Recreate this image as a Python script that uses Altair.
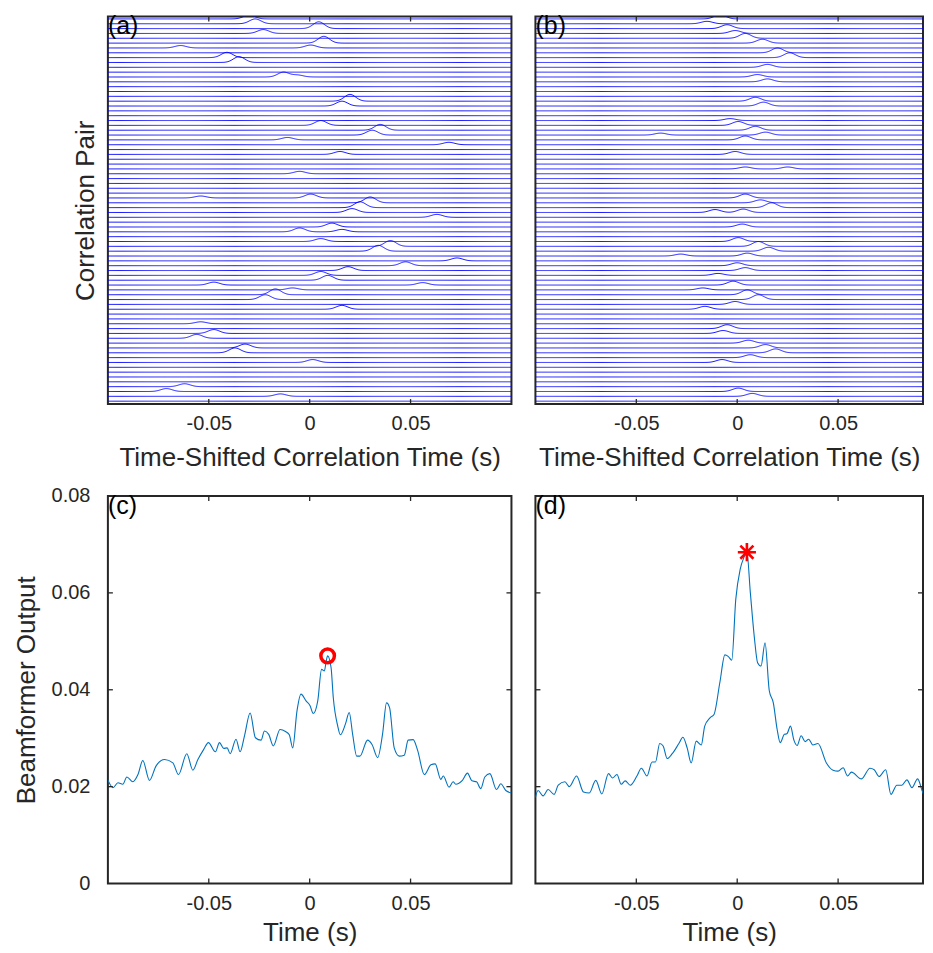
import altair as alt
import numpy as np
import pandas as pd

N_TRACES = 80
SIGMA = 0.0028

# ---- panel (a): visible pulses (trace number from top, centre time s, height in trace spacings)
a_trace = [1, 2, 4, 3, 6, 7, 7, 9, 10, 13, 13, 18, 19, 23, 24, 25, 26, 27, 29, 33, 38, 38, 39, 40, 41, 42,
           44, 45, 45, 47, 48, 49, 51, 52, 53, 54, 55, 56, 56, 57, 58, 59, 61, 64, 66, 67, 69, 70, 72, 77, 78, 79]
a_time = [-0.030, -0.027, -0.023, 0.0045, 0.007, 0.0005, -0.064, -0.041, -0.035, -0.013, -0.006, 0.020, 0.016,
          0.0055, 0.035, 0.031, -0.011, 0.069, 0.015, -0.005, 0.0005, -0.054, 0.030, 0.025, 0.021, 0.063,
          0.011, -0.005, 0.016, 0.0055, 0.040, 0.034, 0.073, 0.0475, 0.019, 0.0055, 0.009, -0.0475, 0.056,
          -0.0085, -0.017, -0.022, 0.016, -0.054, -0.0475, -0.056, -0.032, -0.037, 0.0015, -0.062, -0.071, -0.0145]
a_amp = [0.8, 1.0, 0.8, 1.4, 1.4, 0.6, 0.5, 1.1, 1.2, 1.0, 0.4, 1.4, 1.0, 1.0, 1.2, 1.0, 0.5, 0.5, 0.6, 0.5,
         0.8, 0.4, 1.2, 1.2, 0.8, 0.6, 0.8, 0.8, 0.5, 0.6, 1.2, 1.2, 0.6, 0.8, 0.8, 0.8, 1.0, 0.6, 0.5, 0.4,
         1.2, 1.0, 0.8, 0.4, 0.8, 0.8, 0.8, 1.0, 0.6, 0.6, 0.6, 0.5]

# ---- panel (b): pulses after time shift
b_trace = [1, 2, 3, 4, 5, 6, 8, 9, 11, 13, 14, 18, 19, 22, 23, 24, 25, 25, 26, 29, 32, 32, 38, 39, 40, 41, 41,
           44, 47, 48, 49, 50, 50, 52, 53, 54, 56, 57, 58, 59, 60, 61, 65, 66, 68, 69, 70, 71, 72, 78, 79]
b_time = [-0.0085, -0.015, -0.005, -0.001, 0.004, 0.0125, 0.020, 0.026, 0.015, 0.010, 0.015, 0.009, 0.013,
          -0.0035, 0.0005, 0.009, 0.014, -0.038, 0.004, -0.001, 0.004, 0.025, 0.004, 0.0115, 0.017, -0.011,
          0.003, 0.0025, 0.0005, 0.0105, 0.0155, 0.005, -0.028, 0.0, 0.004, -0.0095, -0.002, -0.017, 0.005,
          0.0105, -0.001, -0.016, -0.005, -0.007, 0.0055, 0.014, 0.019, 0.0065, -0.0075, 0.0005, 0.0075]
b_amp = [0.9, 0.5, 0.8, 0.6, 1.0, 0.8, 1.0, 1.0, 0.6, 0.5, 0.6, 0.8, 0.8, 0.4, 0.8, 0.8, 0.6, 0.4, 0.8, 0.6,
         0.4, 0.4, 0.8, 0.6, 1.0, 0.6, 0.7, 0.6, 0.8, 1.0, 0.8, 0.6, 0.4, 0.6, 0.6, 0.4, 0.8, 0.4, 1.0, 1.0,
         0.6, 0.6, 0.8, 0.6, 0.6, 0.7, 0.8, 0.6, 0.6, 0.7, 0.6]

# ---- panel (c): beamformer output
c_time = [-0.1000, -0.0975, -0.0950, -0.0926, -0.0906, -0.0876, -0.0851, -0.0827, -0.0794, -0.0761, -0.0719,
          -0.0678, -0.0650, -0.0609, -0.0579, -0.0554, -0.0525, -0.0502, -0.0467, -0.0447, -0.0426, -0.0409,
          -0.0394, -0.0365, -0.0345, -0.0323, -0.0295, -0.0269, -0.0241, -0.0224, -0.0203, -0.0180, -0.0147,
          -0.0120, -0.0101, -0.0084, -0.0063, -0.0043, -0.0018, 0.0002, 0.0018, 0.0040, 0.0059, 0.0073,
          0.0080, 0.0089, 0.0106, 0.0117, 0.0139, 0.0152, 0.0177, 0.0196, 0.0213, 0.0233, 0.0249, 0.0287,
          0.0309, 0.0337, 0.0361, 0.0381, 0.0396, 0.0419, 0.0444, 0.0469, 0.0488, 0.0513, 0.0535, 0.0568,
          0.0601, 0.0622, 0.0650, 0.0662, 0.0691, 0.0711, 0.0724, 0.0757, 0.0782, 0.0804, 0.0827, 0.0848,
          0.0868, 0.0893, 0.0926, 0.0947, 0.0972, 0.1000]
c_val = [0.0214, 0.0198, 0.0208, 0.0205, 0.0220, 0.0210, 0.0225, 0.0254, 0.0213, 0.0243, 0.0256, 0.0249,
         0.0225, 0.0268, 0.0234, 0.0256, 0.0277, 0.0291, 0.0272, 0.0291, 0.0279, 0.0280, 0.0268, 0.0298,
         0.0272, 0.0305, 0.0352, 0.0301, 0.0296, 0.0315, 0.0308, 0.0284, 0.0318, 0.0314, 0.0307, 0.0280,
         0.0356, 0.0391, 0.0377, 0.0367, 0.0351, 0.0377, 0.0442, 0.0439, 0.0454, 0.0470, 0.0446, 0.0384,
         0.0325, 0.0307, 0.0329, 0.0353, 0.0308, 0.0263, 0.0263, 0.0296, 0.0287, 0.0260, 0.0308, 0.0373,
         0.0363, 0.0280, 0.0263, 0.0265, 0.0296, 0.0297, 0.0275, 0.0225, 0.0245, 0.0247, 0.0215, 0.0222,
         0.0199, 0.0210, 0.0205, 0.0213, 0.0228, 0.0212, 0.0210, 0.0196, 0.0220, 0.0227, 0.0194, 0.0206,
         0.0192, 0.0187]
c_peak = (0.0089, 0.0470)

# ---- panel (d): beamformer output after shift
d_time = [-0.1000, -0.0987, -0.0962, -0.0937, -0.0907, -0.0887, -0.0854, -0.0832, -0.0796, -0.0762, -0.0733,
          -0.0701, -0.0671, -0.0638, -0.0618, -0.0596, -0.0575, -0.0555, -0.0530, -0.0497, -0.0475, -0.0447,
          -0.0422, -0.0405, -0.0384, -0.0367, -0.0347, -0.0322, -0.0289, -0.0269, -0.0248, -0.0228, -0.0203,
          -0.0178, -0.0161, -0.0135, -0.0115, -0.0086, -0.0061, -0.0045, -0.0027, -0.0007, 0.0015, 0.0032,
          0.0048, 0.0065, 0.0085, 0.0101, 0.0118, 0.0138, 0.0159, 0.0179, 0.0198, 0.0213, 0.0234, 0.0246,
          0.0264, 0.0281, 0.0297, 0.0317, 0.0337, 0.0354, 0.0375, 0.0400, 0.0442, 0.0475, 0.0500, 0.0525,
          0.0547, 0.0566, 0.0616, 0.0658, 0.0679, 0.0703, 0.0736, 0.0762, 0.0791, 0.0816, 0.0841, 0.0866,
          0.0894, 0.0927, 0.0949, 0.0980]
d_val = [0.0178, 0.0192, 0.0181, 0.0194, 0.0184, 0.0203, 0.0210, 0.0200, 0.0222, 0.0189, 0.0187, 0.0213,
         0.0185, 0.0227, 0.0218, 0.0225, 0.0205, 0.0212, 0.0203, 0.0222, 0.0238, 0.0222, 0.0251, 0.0251,
         0.0289, 0.0284, 0.0258, 0.0268, 0.0289, 0.0302, 0.0280, 0.0249, 0.0294, 0.0286, 0.0325, 0.0342,
         0.0349, 0.0415, 0.0472, 0.0469, 0.0461, 0.0587, 0.0649, 0.0672, 0.0684, 0.0601, 0.0508, 0.0456,
         0.0449, 0.0497, 0.0398, 0.0373, 0.0318, 0.0291, 0.0308, 0.0309, 0.0325, 0.0296, 0.0285, 0.0305,
         0.0293, 0.0298, 0.0286, 0.0289, 0.0249, 0.0234, 0.0232, 0.0239, 0.0222, 0.0230, 0.0216, 0.0238,
         0.0235, 0.0221, 0.0235, 0.0184, 0.0203, 0.0203, 0.0214, 0.0198, 0.0216, 0.0183, 0.0201, 0.0177]
d_peak = (0.0048, 0.0684)

x_tick_values = [-0.05, 0, 0.05]
y_tick_values = [0.02, 0.04, 0.06]
y_label_values = [0, 0.02, 0.04, 0.06, 0.08]

W_L, W_R, H = 404, 388, 388
X_MAX_R = -0.1 + 0.2 * W_R / W_L
FRAME = "#262626"
TXT = "#262626"
LINE_BLUE = "#0072BD"
TRACE_BLUE = "#0000FF"

t_grid = np.round(np.linspace(-0.1, 0.1, 401), 5)


def build_traces(tr, tm, am, tmax):
    tg = t_grid[t_grid <= tmax + 0.001]
    frames = []
    for k in range(1, N_TRACES + 1):
        y = np.full(tg.shape, float(N_TRACES + 1 - k))
        for kk, tt, aa in zip(tr, tm, am):
            if kk == k:
                y = y + aa * np.exp(-0.5 * ((tg - tt) / SIGMA) ** 2)
        frames.append(pd.DataFrame({"t": tg, "y": np.round(y, 3), "trace": k}))
    return pd.concat(frames, ignore_index=True)


lab_expr = "datum.value == 0 ? '0' : (datum.value < 0 ? '-' : '') + format(abs(datum.value), '.2f')"


def x_enc(xmax, title, lpad, tpad):
    return alt.X("t:Q", scale=alt.Scale(domain=[-0.1, xmax], nice=False, zero=False),
                 axis=alt.Axis(values=x_tick_values, labelExpr=lab_expr, ticks=False, domain=False,
                               grid=False, labelPadding=lpad, title=title, titlePadding=tpad))


def frame_ticks(xenc):
    xt = pd.DataFrame({"t": x_tick_values})
    return [
        alt.Chart(xt).mark_rule(color=FRAME, strokeWidth=1.3).encode(
            x=xenc, y=alt.value(0), y2=alt.value(5)),
        alt.Chart(xt).mark_rule(color=FRAME, strokeWidth=1.3).encode(
            x=xenc, y=alt.value(H), y2=alt.value(H - 5)),
    ]


def letter(txt):
    return alt.Chart(pd.DataFrame({"lab": [txt]})).mark_text(
        align="left", baseline="alphabetic", fontSize=25, font="Liberation Sans", color="black").encode(
        text="lab:N", x=alt.value(0), y=alt.value(18))


def trace_panel(tr, tm, am, xmax, w, lab, ytitle):
    df = build_traces(tr, tm, am, xmax)
    if ytitle:
        yax = alt.Axis(title=ytitle, labels=False, ticks=False, domain=False, grid=False, titlePadding=9)
    else:
        yax = None
    xenc = x_enc(xmax, "Time-Shifted Correlation Time (s)", 9, 11)
    lines = alt.Chart(df).mark_line(color=TRACE_BLUE, strokeWidth=0.9, clip=True).encode(
        x=xenc,
        y=alt.Y("y:Q", scale=alt.Scale(domain=[0.4, 80.5], nice=False, zero=False), axis=yax),
        detail="trace:N")
    layers = [lines] + frame_ticks(xenc) + [letter(lab)]
    return alt.layer(*layers).properties(width=w, height=H)


def beam_panel(tt, vv, peak, xmax, w, lab, left, marker):
    df = pd.DataFrame({"t": tt, "v": vv})
    if left:
        yax = alt.Axis(values=y_label_values,
                       labelExpr="datum.value == 0 ? '0' : format(datum.value, '.2f')",
                       ticks=False, domain=False, grid=False, labelPadding=18,
                       title="Beamformer Output", titlePadding=12)
    else:
        yax = None
    yenc = alt.Y("v:Q", scale=alt.Scale(domain=[0, 0.08], nice=False, zero=False), axis=yax)
    xenc = x_enc(xmax, "Time (s)", 10, 6)
    line = alt.Chart(df).mark_line(color=LINE_BLUE, strokeWidth=1.1, clip=True,
                                   interpolate="monotone").encode(x=xenc, y=yenc)
    yt = pd.DataFrame({"v": y_tick_values})
    yl = alt.Chart(yt).mark_rule(color=FRAME, strokeWidth=1.3).encode(y=yenc, x=alt.value(0), x2=alt.value(5))
    yr = alt.Chart(yt).mark_rule(color=FRAME, strokeWidth=1.3).encode(y=yenc, x=alt.value(w), x2=alt.value(w - 5))
    pk = pd.DataFrame({"t": [peak[0]], "v": [peak[1]]})
    if marker == "circle":
        mk = alt.Chart(pk).mark_point(shape="circle", filled=False, color="#FF0000", size=185,
                                      strokeWidth=3.5, opacity=1).encode(x=xenc, y=yenc)
    else:
        mk = alt.Chart(pk).mark_point(
            shape="M-1,0L1,0M0,-1L0,1M-0.72,-0.72L0.72,0.72M-0.72,0.72L0.72,-0.72",
            filled=False, color="#FF0000", size=330, strokeWidth=2.6, opacity=1).encode(x=xenc, y=yenc)
    layers = [line] + frame_ticks(xenc) + [yl, yr, mk, letter(lab)]
    return alt.layer(*layers).properties(width=w, height=H)


pa = trace_panel(a_trace, a_time, a_amp, 0.1, W_L, "(a)", "Correlation Pair")
pb = trace_panel(b_trace, b_time, b_amp, X_MAX_R, W_R, "(b)", None)
pc = beam_panel(c_time, c_val, c_peak, 0.1, W_L, "(c)", True, "circle")
pd_ = beam_panel(d_time, d_val, d_peak, X_MAX_R, W_R, "(d)", False, "star")

chart = alt.concat(pa, pb, pc, pd_, columns=2, spacing={"row": 92, "column": 24}, bounds="flush").properties(
    padding={"left": 4, "top": 5, "right": 0, "bottom": 0}
).configure_view(
    stroke=FRAME, strokeWidth=2
).configure_axis(
    labelFont="Liberation Sans", titleFont="Liberation Sans", labelFontSize=20, titleFontSize=26,
    titleFontWeight="normal", labelColor=TXT, titleColor=TXT
)

chart.save("out.html", embed_options={"renderer": "svg", "actions": False})
